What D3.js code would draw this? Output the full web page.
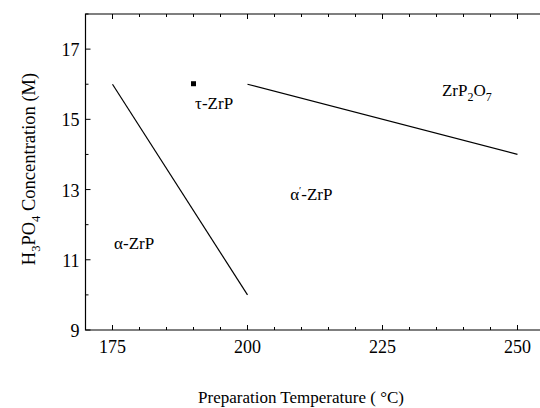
<!DOCTYPE html>
<html>
<head>
<meta charset="utf-8">
<script src="https://cdn.jsdelivr.net/npm/d3@7"></script>
<style>
	body { margin: 0; background: #fff; }
</style>
</head>
<body>
<div id="chart"></div>
<script>
// phase boundaries (temperature °C, H3PO4 M)
const boundaryAlpha = [[175, 16], [200, 10]]
const boundaryPyro = [[200, 16], [250, 14]]
// single tau-ZrP point
const tauPoint = [[190, 16]]

const xMajor = [175, 200, 225, 250]
const yMajor = [9, 11, 13, 15, 17]

// region labels: [temperature, concentration, text parts]
const regionLabels = [
	{ x: 175.3, y: 11.31, parts: [["α-ZrP", 0]] },
	{ x: 190.3, y: 15.29, parts: [["τ-ZrP", 0]] },
	{ x: 207.9, y: 12.71, parts: [["α", 0], ["′", 6, 10], ["-ZrP", 0]] },
	{ x: 236, y: 15.67, parts: [["ZrP", 0], ["2", -5, 12], ["O", 0], ["7", -5, 12]] },
]

const width = 540
const height = 408
const margin = { top: 14, left: 85.5, bottom: 78 }
const serif = "'Liberation Serif', 'Times New Roman', Times, serif"

const svg = d3.select("#chart")
	.append("svg")
	.attr("width", width)
	.attr("height", height)
	.style("display", "block")
	.attr("font-family", serif)

const x = d3.scaleLinear().domain([170, 255]).range([margin.left, margin.left + 85 * 5.4])
const y = d3.scaleLinear().domain([9, 18]).range([height - margin.bottom, margin.top])

const x0 = x(170), x1 = width + 5
const y0 = y(9), y1 = y(18)

// frame
svg.append("path")
	.attr("d", `M${x1},${y1}H${x0}V${y0}H${x1}`)
	.attr("fill", "none")
	.attr("stroke", "#000")
	.attr("stroke-width", 1.2)

// ticks (inward) on bottom, top and left
const xTicks = d3.range(170, 256, 5)
xTicks.forEach(t => {
	const len = t % 25 === 0 ? 5 : 3
	svg.append("line").attr("x1", x(t)).attr("x2", x(t)).attr("y1", y0).attr("y2", y0 - len).attr("stroke", "#000")
	svg.append("line").attr("x1", x(t)).attr("x2", x(t)).attr("y1", y1).attr("y2", y1 + len).attr("stroke", "#000")
})
const yTicks = d3.range(9, 18.01, 1)
yTicks.forEach(t => {
	const len = t % 2 === 1 ? 5 : 3
	svg.append("line").attr("x1", x0).attr("x2", x0 + len).attr("y1", y(t)).attr("y2", y(t)).attr("stroke", "#000")
})

// tick labels
svg.append("g").selectAll("text")
	.data(xMajor)
	.join("text")
	.attr("x", d => x(d))
	.attr("y", y0 + 23)
	.attr("text-anchor", "middle")
	.attr("font-size", 18)
	.text(d => d)

svg.append("g").selectAll("text")
	.data(yMajor)
	.join("text")
	.attr("x", x0 - 6)
	.attr("y", d => y(d) + 7)
	.attr("text-anchor", "end")
	.attr("font-size", 18)
	.text(d => d)

// boundary lines
const line = d3.line().x(d => x(d[0])).y(d => y(d[1]))
;[boundaryAlpha, boundaryPyro].forEach(b => {
	svg.append("path")
		.attr("d", line(b))
		.attr("fill", "none")
		.attr("stroke", "#000")
		.attr("stroke-width", 1.2)
})

svg.selectAll(".pt")
	.data(tauPoint)
	.join("rect")
	.attr("class", "pt")
	.attr("x", d => x(d[0]) - 2.5)
	.attr("y", d => y(d[1]) - 3)
	.attr("width", 5)
	.attr("height", 5)
	.attr("fill", "#000")

// region labels
regionLabels.forEach(l => {
	const t = svg.append("text")
		.attr("x", x(l.x))
		.attr("y", y(l.y))
		.attr("font-size", 17)
	l.parts.forEach(p => {
		t.append("tspan")
			.attr("baseline-shift", p[1] ? p[1] : null)
			.attr("font-size", p[2] || null)
			.text(p[0])
	})
})

// axis titles
svg.append("text")
	.attr("x", 301)
	.attr("y", 403)
	.attr("text-anchor", "middle")
	.attr("font-size", 17)
	.text("Preparation Temperature ( °C)")

const yt = svg.append("text")
	.attr("transform", `translate(35,169) rotate(-90)`)
	.attr("text-anchor", "middle")
	.attr("font-size", 18.5)
yt.append("tspan").text("H")
yt.append("tspan").attr("baseline-shift", -5).attr("font-size", 12.5).text("3")
yt.append("tspan").text("PO")
yt.append("tspan").attr("baseline-shift", -5).attr("font-size", 12.5).text("4")
yt.append("tspan").text("  Concentration (M)")
</script>
</body>
</html>
